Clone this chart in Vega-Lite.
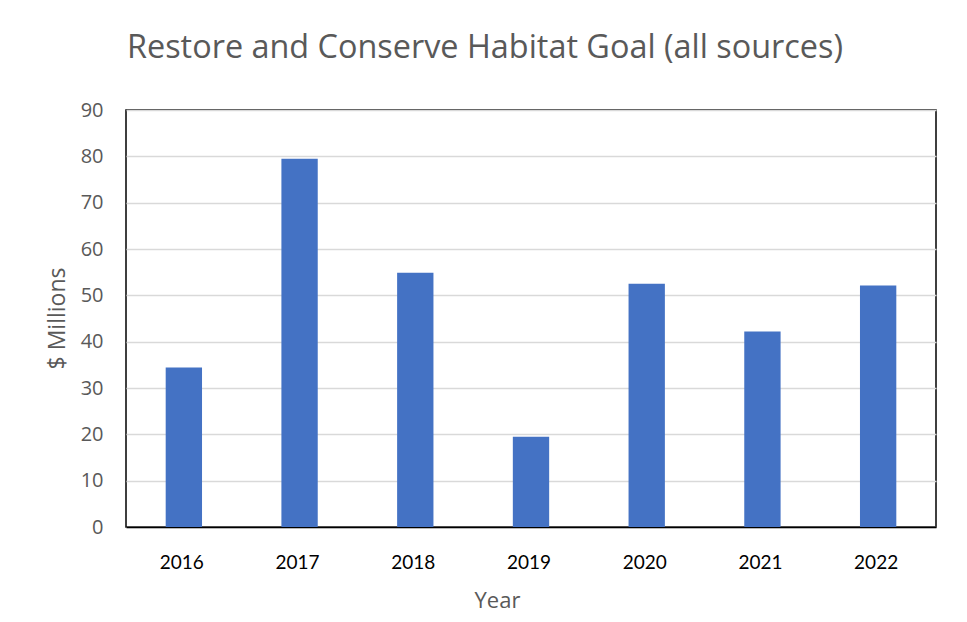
{
  "$schema": "https://vega.github.io/schema/vega-lite/v6.json",
  "autosize": "none",
  "padding": {"left": 126, "top": 110, "right": 31, "bottom": 95},
  "width": 810,
  "height": 417,
  "background": "white",
  "title": {
    "text": "Restore and Conserve Habitat Goal (all sources)",
    "font": "Open Sans",
    "fontSize": 32.4,
    "fontWeight": "normal",
    "color": "#595959",
    "anchor": "middle",
    "baseline": "alphabetic",
    "dx": -46,
    "offset": 10
  },
  "data": {
    "values": [
      {"year": "2016", "amount": 34.4},
      {"year": "2017", "amount": 79.5},
      {"year": "2018", "amount": 54.9},
      {"year": "2019", "amount": 19.5},
      {"year": "2020", "amount": 52.5},
      {"year": "2021", "amount": 42.2},
      {"year": "2022", "amount": 52.1}
    ]
  },
  "mark": {"type": "bar", "color": "#4472C4", "width": {"band": 0.314}},
  "encoding": {
    "x": {
      "field": "year",
      "type": "ordinal",
      "title": "Year",
      "scale": {"paddingInner": 0, "paddingOuter": 0},
      "axis": {
        "labelAngle": 0,
        "labelFont": "Lato",
        "labelFontSize": 19,
        "labelColor": "#000000",
        "labelPadding": 26,
        "labelOffset": -2,
        "ticks": false,
        "domainColor": "#000000",
        "domainWidth": 1.5,
        "titleFont": "Open Sans",
        "titleFontSize": 22,
        "titleFontWeight": "normal",
        "titleColor": "#595959",
        "titleX": 371,
        "titleY": 73,
        "titleBaseline": "middle"
      }
    },
    "y": {
      "field": "amount",
      "type": "quantitative",
      "title": "$ Millions",
      "scale": {"domain": [0, 90], "nice": false},
      "axis": {
        "values": [0, 10, 20, 30, 40, 50, 60, 70, 80, 90],
        "labelFont": "Open Sans",
        "labelFontSize": 20,
        "labelColor": "#595959",
        "labelPadding": 23,
        "ticks": false,
        "domain": false,
        "gridColor": "#d9d9d9",
        "gridWidth": 1.5,
        "titleFont": "Open Sans",
        "titleFontSize": 23,
        "titleFontWeight": "normal",
        "titleColor": "#595959",
        "titleX": -69,
        "titleY": 208,
        "titleAngle": -90,
        "titleBaseline": "middle",
        "titleAlign": "center"
      }
    }
  },
  "config": {
    "view": {"stroke": "#000000", "strokeWidth": 1.5}
  }
}
